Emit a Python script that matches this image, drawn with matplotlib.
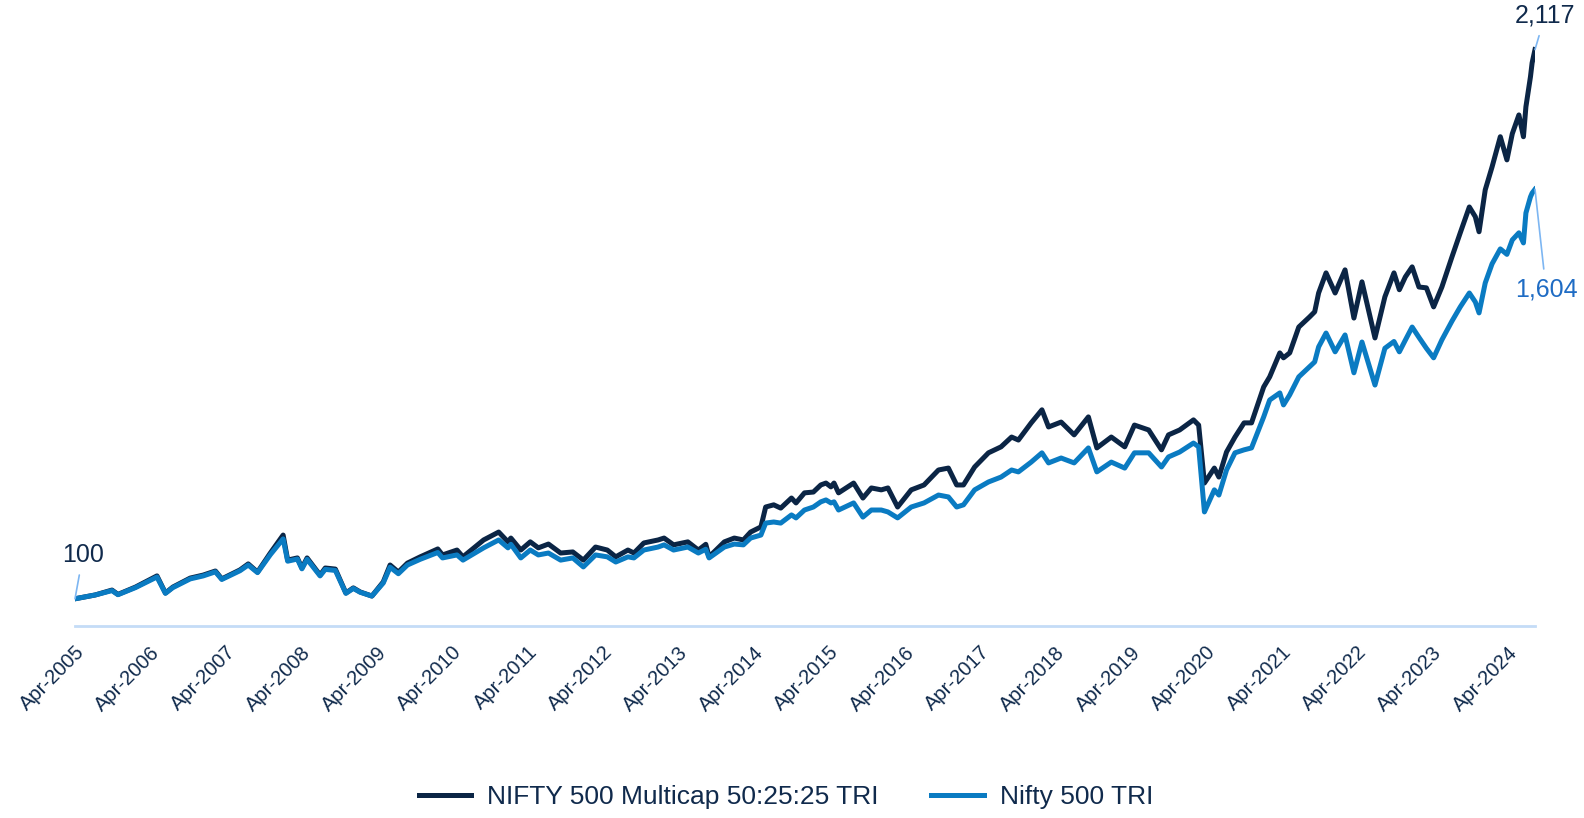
import pandas as pd
import matplotlib.pyplot as plt
import matplotlib.dates as mdates

plt.rcParams['font.family'] = ['Liberation Sans', 'DejaVu Sans']

# values (indexed to 100 at Apr-2005)
dates = [
    '2005-04-01', '2005-07-08', '2005-09-27', '2005-10-26', '2006-01-19', '2006-05-03', '2006-06-13',
    '2006-07-19', '2006-10-11', '2006-12-13', '2007-02-10', '2007-03-13', '2007-06-09', '2007-07-19',
    '2007-09-02', '2007-11-03', '2008-01-04', '2008-01-26', '2008-03-13', '2008-04-04', '2008-04-29',
    '2008-07-01', '2008-07-26', '2008-09-13', '2008-11-03', '2008-12-09', '2009-01-11', '2009-03-09',
    '2009-05-03', '2009-06-05', '2009-07-15', '2009-08-28', '2009-10-29', '2010-01-22', '2010-02-14',
    '2010-04-25', '2010-05-24', '2010-09-01', '2010-11-13', '2010-12-28', '2011-01-11', '2011-02-28',
    '2011-04-15', '2011-05-24', '2011-07-12', '2011-09-09', '2011-11-07', '2011-12-28', '2012-02-25',
    '2012-04-22', '2012-06-02', '2012-07-31', '2012-08-29', '2012-10-16', '2012-12-24', '2013-01-22',
    '2013-03-09', '2013-05-17', '2013-07-07', '2013-08-12', '2013-08-28', '2013-11-10', '2013-12-28',
    '2014-02-10', '2014-03-17', '2014-05-06', '2014-05-29', '2014-07-07', '2014-08-10', '2014-10-01',
    '2014-10-23', '2014-12-03', '2015-01-15', '2015-02-20', '2015-03-17', '2015-04-10', '2015-04-25',
    '2015-05-17', '2015-07-29', '2015-09-12', '2015-10-23', '2015-12-10', '2016-01-11', '2016-02-27',
    '2016-05-03', '2016-07-04', '2016-09-12', '2016-10-30', '2016-12-09', '2017-01-11', '2017-03-06',
    '2017-05-12', '2017-07-12', '2017-09-01', '2017-10-04', '2017-12-05', '2018-01-26', '2018-02-27',
    '2018-04-29', '2018-07-01', '2018-09-08', '2018-10-19', '2018-12-28', '2019-03-03', '2019-04-19',
    '2019-06-27', '2019-08-28', '2019-10-01', '2019-11-24', '2020-01-30', '2020-02-24', '2020-03-23',
    '2020-05-10', '2020-06-01', '2020-07-08', '2020-08-18', '2020-10-01', '2020-11-06', '2021-01-04',
    '2021-02-02', '2021-03-23', '2021-04-10', '2021-05-10', '2021-06-23', '2021-08-14', '2021-09-08',
    '2021-09-27', '2021-11-02', '2021-12-16', '2022-02-02', '2022-03-17', '2022-04-25', '2022-06-27',
    '2022-08-14', '2022-09-27', '2022-10-23', '2022-11-21', '2022-12-24', '2023-01-26', '2023-03-03',
    '2023-04-07', '2023-05-17', '2023-07-05', '2023-08-14', '2023-09-27', '2023-10-26', '2023-11-13',
    '2023-12-13', '2024-01-15', '2024-02-24', '2024-03-27', '2024-04-22', '2024-05-24', '2024-06-15',
    '2024-06-27', '2024-07-19', '2024-07-27', '2024-08-10',
]

multicap = [
    100, 114, 132, 116, 143, 184, 121, 143, 176, 187, 202, 173, 206, 228, 198, 268, 334, 242, 250, 213,
    250, 187, 213, 209, 121, 140, 125, 110, 162, 224, 198, 231, 254, 283, 261,
    279, 254, 316, 345, 309, 323, 279, 309, 287, 301, 268, 272, 242, 290, 279, 254, 279, 268, 305,
    316, 323, 298, 309, 279, 300, 254, 309, 323, 316, 345, 364, 437, 445, 433, 470, 452, 489, 492,
    518, 525, 511, 525, 489, 525, 470, 507, 500, 507, 437, 500, 518, 573, 580, 518, 518, 584, 636,
    658, 694, 683, 746, 794, 731, 749, 702, 768, 654, 694, 658, 738, 720, 647, 702, 720, 757, 738,
    525, 580, 547, 639, 694, 746, 746, 878, 915, 1003, 985, 1003, 1098, 1135, 1154, 1223, 1297, 1223,
    1308, 1131, 1264, 1058, 1209, 1297, 1235, 1282, 1319, 1245, 1242, 1172, 1245, 1356, 1444, 1539,
    1503, 1448, 1602, 1686, 1797, 1712, 1808, 1877, 1797, 1907, 2017, 2068, 2117,
]

nifty500 = [
    100, 114, 130, 115, 141, 180, 120, 141, 173, 184, 199, 171, 203, 224, 196, 262, 320, 238, 246, 210,
    245, 184, 208, 204, 120, 138, 124, 110, 158, 216, 192, 224, 245, 270, 250,
    261, 242, 287, 316, 287, 300, 250, 279, 261, 268, 242, 250, 217, 261, 254, 235, 254, 250, 279,
    290, 298, 279, 290, 268, 282, 250, 290, 301, 298, 323, 334, 378, 382, 378, 408, 397, 426, 437,
    456, 463, 452, 456, 426, 452, 400, 426, 426, 419, 397, 437, 452, 481, 474, 437, 445, 500, 529,
    547, 573, 566, 602, 636, 599, 617, 599, 654, 566, 602, 580, 636, 636, 584, 621, 639, 672, 658,
    419, 500, 481, 573, 636, 647, 654, 768, 830, 856, 812, 849, 915, 952, 970, 1025, 1076, 1007,
    1069, 930, 1043, 885, 1020, 1045, 1007, 1050, 1098, 1060, 1020, 985, 1051, 1120, 1172, 1223,
    1190, 1150, 1260, 1330, 1385, 1365, 1418, 1444, 1407, 1517, 1576, 1590, 1604,
]

tick_years = list(range(2005, 2025))

df = pd.DataFrame({'date': pd.to_datetime(dates), 'multicap': multicap, 'nifty500': nifty500})

navy = '#0b2545'
blue = '#0a7bc2'
text_navy = '#102a4c'
leader = '#7db6f2'

fig = plt.figure(figsize=(15.84, 8.18), dpi=100)
ax = fig.add_axes([75 / 1584, (818 - 626) / 818, (1535 - 75) / 1584, (626 - 27) / 818])

ax.plot(df['date'], df['multicap'], color=navy, lw=3.6, solid_joinstyle='round',
        label='NIFTY 500 Multicap 50:25:25 TRI')
ax.plot(df['date'], df['nifty500'], color=blue, lw=3.6, solid_joinstyle='round',
        label='Nifty 500 TRI')

ax.set_xlim(df['date'].iloc[0], df['date'].iloc[-1])
ax.set_ylim(0, 2200)

# axes styling: only a light blue baseline
for s in ['top', 'right', 'left']:
    ax.spines[s].set_visible(False)
ax.spines['bottom'].set_color('#c4dcf7')
ax.spines['bottom'].set_linewidth(2)
ax.set_yticks([])

ticks = pd.to_datetime([f'{y}-04-01' for y in tick_years])
ax.set_xticks(ticks)
ax.set_xticklabels([t.strftime('%b-%Y') for t in ticks], rotation=45, ha='right', va='top',
                   rotation_mode='anchor', fontsize=14.5, color=text_navy)
ax.tick_params(axis='x', length=0, pad=12)

# end point labels
first = df.iloc[0]
last = df.iloc[-1]
arrow = dict(arrowstyle='-', color=leader, lw=1.2, shrinkA=4, shrinkB=0)
ax.annotate(f"{first['multicap']:,.0f}", xy=(first['date'], first['multicap']), xytext=(8, 32),
            textcoords='offset pixels', ha='center', va='bottom', fontsize=18, color=text_navy,
            arrowprops=arrow)
ax.annotate(f"{last['multicap']:,.0f}", xy=(last['date'], last['multicap']), xytext=(10, 22),
            textcoords='offset pixels', ha='center', va='bottom', fontsize=18, color=text_navy,
            arrowprops=arrow)
ax.annotate(f"{last['nifty500']:,.0f}", xy=(last['date'], last['nifty500']), xytext=(11, -88),
            textcoords='offset pixels', ha='center', va='top', fontsize=18, color='#1f6cc4',
            arrowprops=arrow)

fig.legend(loc='center', bbox_to_anchor=(786 / 1584, 1 - 797 / 818), ncol=2, frameon=False,
           fontsize=19, handlelength=2.0, handletextpad=0.6, columnspacing=2.0,
           labelcolor=text_navy)

fig.savefig('out.png', dpi=100)
